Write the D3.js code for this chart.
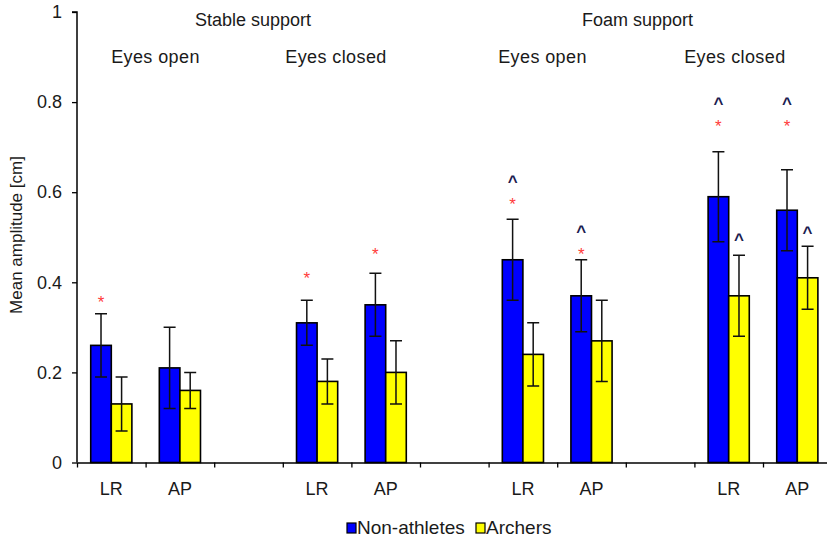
<!DOCTYPE html>
<html>
<head>
<meta charset="utf-8">
<script src="https://cdn.jsdelivr.net/npm/d3@7"></script>
<style>
  html, body { margin: 0; padding: 0; background: #fff; }
  svg { display: block; font-family: "Liberation Sans", Arial, sans-serif; }
</style>
</head>
<body>
<svg id="chart" width="827" height="542"></svg>
<script>
// ---- data ----
const directions = ["LR", "AP", "LR", "AP", "LR", "AP", "LR", "AP"];
const supports = ["Stable support", "Foam support"];
const eyes = ["Eyes open", "Eyes closed", "Eyes open", "Eyes closed"];
const seriesNames = ["Non-athletes", "Archers"];
const nonAthletes = [0.26, 0.21, 0.31, 0.35, 0.45, 0.37, 0.59, 0.56];
const nonAthletesErr = [0.07, 0.09, 0.05, 0.07, 0.09, 0.08, 0.10, 0.09];
const archers = [0.13, 0.16, 0.18, 0.20, 0.24, 0.27, 0.37, 0.41];
const archersErr = [0.06, 0.04, 0.05, 0.07, 0.07, 0.09, 0.09, 0.07];
// significance marker heights (value units), null = no marker
const nonAthletesStar = [0.365, null, 0.419, 0.471, 0.582, 0.471, 0.756, 0.756];
const nonAthletesCaret = [null, null, null, null, 0.636, 0.524, 0.809, 0.809];
const archersCaret = [null, null, null, null, null, null, 0.507, 0.522];
const yTicks = [0, 0.2, 0.4, 0.6, 0.8, 1];
const yTickLabels = ["0", "0.2", "0.4", "0.6", "0.8", "1"];

// ---- layout ----
const svg = d3.select("#chart");
const nSlots = 11;
const slotW = 68.6;
const x = d3.scaleLinear().domain([0, nSlots]).range([77, 77 + nSlots * slotW]);
const y = d3.scaleLinear().domain([0, 1]).range([462.5, 12]);
const slotOf = i => i + Math.floor(i / 2);
const center = i => x(slotOf(i) + 0.5);
const barW = slotW * 0.3;
const colors = ["#0000ff", "#ffff00"];
const textColor = "#1a1a1a";

// axes
const yAxis = d3.axisLeft(y).tickValues(yTicks).tickFormat((d, i) => yTickLabels[i]).tickSize(5).tickPadding(10);
const gy = svg.append("g").attr("transform", `translate(${x(0)},0)`).call(yAxis);
gy.select(".domain").attr("stroke", "#000").attr("stroke-width", 1.5).attr("d", `M-5,${y(1)}H0V${y(0)}`);
gy.selectAll(".tick line").attr("stroke", "#000").attr("stroke-width", 1.3);
gy.selectAll(".tick text").attr("font-size", 18).attr("fill", textColor).attr("font-family", "Liberation Sans, Arial, sans-serif");

const xAxis = d3.axisBottom(x).tickValues(d3.range(0, nSlots)).tickFormat("").tickSize(5).tickSizeOuter(0);
const gx = svg.append("g").attr("transform", `translate(0,${y(0)})`).call(xAxis);
gx.select(".domain").attr("stroke", "#000").attr("stroke-width", 1.5);
gx.selectAll(".tick line").attr("stroke", "#000").attr("stroke-width", 1.3);

// x category labels
svg.append("g").selectAll("text").data(directions).join("text")
  .attr("x", (d, i) => center(i)).attr("y", 495)
  .attr("text-anchor", "middle").attr("font-size", 18).attr("fill", textColor)
  .text(d => d);

// bars
const series = [
  { vals: nonAthletes, err: nonAthletesErr, off: -barW, color: colors[0] },
  { vals: archers, err: archersErr, off: 0, color: colors[1] }
];
series.forEach(s => {
  const g = svg.append("g");
  g.selectAll("rect").data(s.vals).join("rect")
    .attr("x", (d, i) => center(i) + s.off)
    .attr("width", barW)
    .attr("y", d => y(d))
    .attr("height", d => y(0) - y(d))
    .attr("fill", s.color).attr("stroke", "#000").attr("stroke-width", 1.6);
  const eg = svg.append("g").attr("stroke", "#111").attr("stroke-width", 1.5).attr("fill", "none");
  s.vals.forEach((v, i) => {
    const cx = center(i) + s.off + barW / 2;
    const hi = y(v + s.err[i]), lo = y(v - s.err[i]);
    eg.append("path").attr("d", `M${cx},${hi}V${lo}M${cx - 6},${hi}H${cx + 6}M${cx - 6},${lo}H${cx + 6}`);
  });
});

// significance markers
function markers(arr, off, ch, color, bold) {
  svg.append("g").selectAll("text").data(arr.map((v, i) => ({ v, i })).filter(d => d.v != null)).join("text")
    .attr("x", d => center(d.i) + off + barW / 2)
    .attr("y", d => y(d.v) + (ch === "*" ? 10 : 11))
    .attr("text-anchor", "middle").attr("font-size", 17)
    .attr("font-weight", bold ? "bold" : "normal")
    .attr("fill", color).text(ch);
}
markers(nonAthletesStar, -barW, "*", "#ff3b3b", false);
markers(nonAthletesCaret, -barW, "^", "#1c1c50", true);
markers(archersCaret, 0, "^", "#1c1c50", true);

// group headers (positions in slot units)
const supportPos = [2.566, 8.17];
const eyesPos = [1.144, 3.776, 6.786, 9.59];
svg.append("g").selectAll("text").data(supports).join("text")
  .attr("x", (d, i) => x(supportPos[i])).attr("y", 26)
  .attr("text-anchor", "middle").attr("font-size", 18).attr("fill", textColor).text(d => d);
svg.append("g").selectAll("text").data(eyes).join("text")
  .attr("x", (d, i) => x(eyesPos[i])).attr("y", 63)
  .attr("text-anchor", "middle").attr("font-size", 18).attr("letter-spacing", 0.4).attr("fill", textColor).text(d => d);

// y axis title
svg.append("text")
  .attr("transform", `translate(22,235) rotate(-90)`)
  .attr("text-anchor", "middle").attr("font-size", 17).attr("fill", textColor)
  .text("Mean amplitude [cm]");

// legend
const legendX = [347, 476];
const lg = svg.append("g").selectAll("g").data(seriesNames).join("g")
  .attr("transform", (d, i) => `translate(${legendX[i]},523)`);
lg.append("rect").attr("width", 9).attr("height", 10).attr("fill", (d, i) => colors[i]).attr("stroke", "#000").attr("stroke-width", 1.2);
lg.append("text").attr("x", 10).attr("y", 11).attr("font-size", 19).attr("fill", textColor).text(d => d);
</script>
</body>
</html>
